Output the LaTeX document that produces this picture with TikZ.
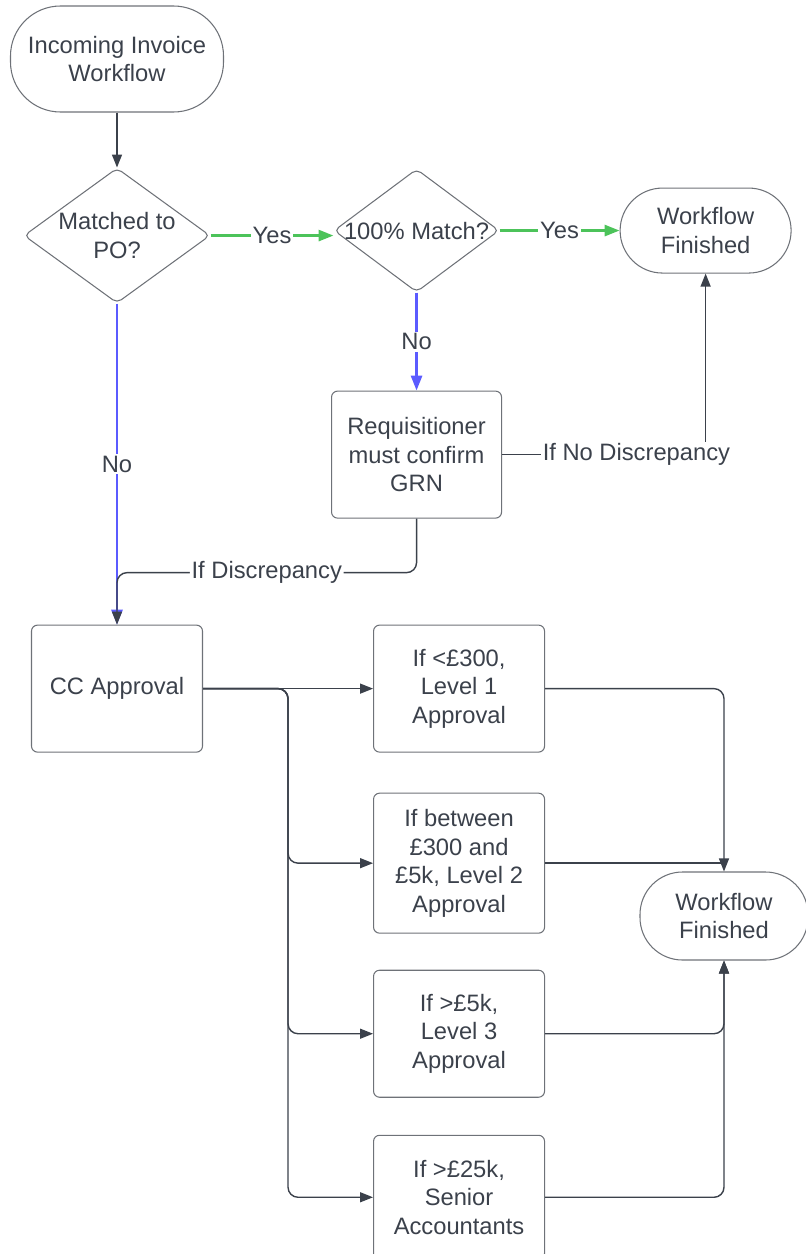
\documentclass[tikz,border=0pt]{standalone}
\usepackage{fontspec}
\setmainfont{Liberation Sans}
\usepackage{xcolor}
\usepackage{tikz}
\usetikzlibrary{arrows.meta,positioning,shapes.geometric}

\definecolor{inkgray}{HTML}{3B414B}
\definecolor{edgegray}{HTML}{6E7278}
\definecolor{yesgreen}{HTML}{4CC35A}
\definecolor{noblue}{HTML}{5B5BFF}

\begin{document}
\begin{tikzpicture}[
    node distance=1cm,
    every node/.style={
      font=\fontsize{13.5}{16.2}\selectfont,
      text=inkgray
    },
    terminal/.style={
      rectangle,
      draw=edgegray,
      line width=0.6pt,
      align=center,
      minimum width=3.42cm,
      minimum height=1.7cm,
      rounded corners=0.85cm
    },
    block/.style={
      rectangle,
      draw=edgegray,
      line width=0.6pt,
      align=center,
      minimum width=3.42cm,
      minimum height=2.54cm,
      rounded corners=0.12cm
    },
    decision/.style={
      diamond,
      draw=edgegray,
      line width=0.6pt,
      inner sep=0pt,
      rounded corners=3pt
    },
    inside/.style={align=center},
    line/.style={draw=inkgray, line width=0.8pt, -{Triangle[length=0.26cm, width=0.2cm]}},
    conn/.style={draw=inkgray, line width=0.8pt},
    yes/.style={draw=yesgreen, line width=1.6pt, -{Triangle[length=0.3cm, width=0.22cm]}},
    no/.style={draw=noblue, line width=1.6pt, -{Triangle[length=0.3cm, width=0.22cm]}},
    lbl/.style={fill=white, inner sep=1pt}
]
    \useasboundingbox (0,0) rectangle (16.12,-25.08);

    % Nodes
    \node [terminal, minimum width=4.26cm, minimum height=2.12cm, rounded corners=1cm] (start) at (2.34,-1.18) {Incoming Invoice\\Workflow};
    \node [decision, minimum width=3.72cm, minimum height=2.7cm, below=1.1cm of start,
           label={[inside]center:Matched to\\PO?}] (po) {};
    \node [decision, minimum width=3.3cm, minimum height=2.46cm, right=2.46cm of po, yshift=0.1cm,
           label={[inside]center:100\% Match?}] (match) {};
    \node [terminal, right=2.4cm of match] (done) {Workflow\\Finished};
    \node [block, minimum width=3.4cm, below=1.96cm of match] (grn) {Requisitioner\\must confirm\\GRN};
    \node [block, below=6.42cm of po] (cc) {CC Approval};
    \node [block, right=3.4cm of cc] (lvl1) {If <£300,\\Level 1\\Approval};
    \node [block, minimum height=2.8cm, below=0.8cm of lvl1] (lvl2) {If between\\£300 and\\£5k, Level 2\\Approval};
    \node [block, below=0.72cm of lvl2] (lvl3) {If >£5k,\\Level 3\\Approval};
    \node [block, minimum height=2.48cm, below=0.74cm of lvl3] (senior) {If >£25k,\\Senior\\Accountants};
    \node [terminal, minimum width=3.36cm, minimum height=1.76cm] (doneb) at (14.48,-18.32) {Workflow\\Finished};
    \coordinate (join) at (lvl2 -| doneb);

    % Edges
    \path [line] (start) -- (po);
    \path [yes] (po.east) -- node[lbl] {Yes} (po.east -| match.west);
    \path [yes] (match) -- node[lbl] {Yes} (done);
    \path [no] (match) -- node[lbl] {No} (grn);
    \path [line] (grn) -| node[lbl, pos=0.33] {If No Discrepancy} (done);
    \path [no] (po) -- node[lbl] {No} (cc);
    \path [line, rounded corners=0.2cm] (grn.south) -- ++(0,-1.08) -| node[lbl, pos=0.25] {If Discrepancy} (cc.north);

    \path [line] (cc) -- (lvl1);
    \path [line, rounded corners=0.2cm] (cc.east) -- ++(1.7,0) |- (lvl2);
    \path [line, rounded corners=0.2cm] (cc.east) -- ++(1.7,0) |- (lvl3);
    \path [line, rounded corners=0.2cm] (cc.east) -- ++(1.7,0) |- (senior);

    \path [line, rounded corners=0.2cm] (lvl1) -| (doneb);
    \path [conn] (lvl2) -- (join);
    \path [line, rounded corners=0.2cm] (lvl3) -| (doneb);
    \path [line, rounded corners=0.2cm] (senior) -| (doneb);

\end{tikzpicture}
\end{document}
